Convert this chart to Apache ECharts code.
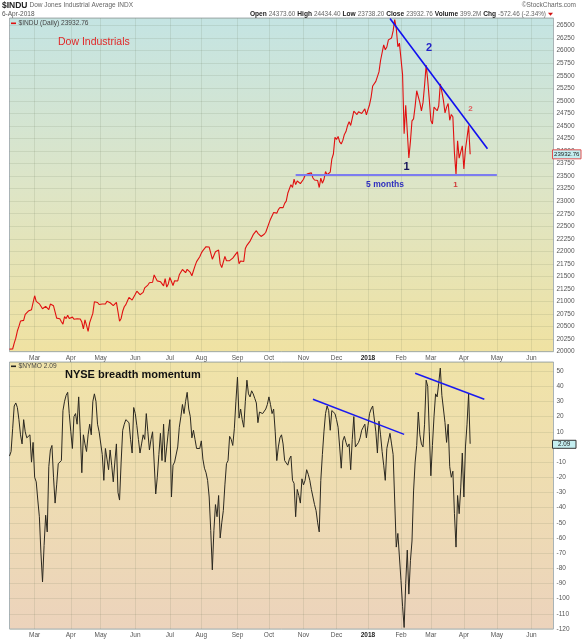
<!DOCTYPE html>
<html><head><meta charset="utf-8">
<script src="https://cdn.jsdelivr.net/npm/echarts@6/dist/echarts.min.js"></script>
<style>html,body{margin:0;padding:0;background:#fff}#c{width:582px;height:640px}</style>
</head><body><div id="c"></div>
<script>
// ---------- data ----------
const startDate = '2017-02-06';
const endDate = '2018-06-21';
const holidays = ['2017-02-20','2017-04-14','2017-05-29','2017-07-04','2017-09-04','2017-11-23','2017-12-25',
  '2018-01-01','2018-01-15','2018-02-19','2018-03-30','2018-05-28'];
const monthNames = ['Jan','Feb','Mar','Apr','May','Jun','Jul','Aug','Sep','Oct','Nov','Dec'];

const dowClose = [
20052,20090,20054,20172,20269,20412,20504,20611,20619,20624,20743,20775,20810,20821,20837,20812,
21115,21002,21005,20954,20924,20855,20858,20903,20881,20837,20950,20934,20914,20905,20669,20661,20656,20597,20550,20701,20659,20728,20663,
20650,20689,20648,20662,20656,20658,20651,20591,20453,20636,20523,20404,20578,20548,20763,20996,20975,20981,20941,
20913,20950,20957,20951,21007,21013,20975,20943,20919,20897,20982,20980,20607,20663,20805,20895,20938,21012,21083,21080,21029,21009,
21144,21206,21184,21136,21174,21182,21272,21236,21328,21374,21360,21384,21529,21468,21411,21397,21395,21409,21311,21455,21288,21350,
21479,21479,21320,21414,21409,21410,21533,21554,21638,21630,21575,21641,21611,21580,21513,21613,21711,21796,21830,21891,
21964,22016,22026,22092,22118,22085,22048,21844,21858,21993,21998,22025,21750,21675,21703,21899,21812,21783,21814,21808,21865,21892,21948,
21988,21754,21807,21785,21798,22057,22119,22158,22204,22268,22332,22370,22412,22359,22350,22297,22284,22341,22381,22405,
22557,22641,22662,22775,22774,22761,22831,22873,22841,22872,22957,23000,23157,23163,23329,23274,23441,23329,23401,23434,23349,23377,
23436,23516,23539,23549,23557,23563,23462,23422,23440,23410,23272,23458,23358,23430,23591,23526,23558,23580,23836,23940,24272,
24231,24290,24180,24140,24211,24329,24387,24504,24585,24509,24652,24792,24754,24726,24782,24754,24746,24775,24838,24719,
24824,24922,25075,25296,25283,25386,25369,25575,25803,25793,26116,26017,26072,26214,26211,26252,26393,26617,26440,26077,26149,
26187,25521,24346,24913,24893,23860,24191,24601,24641,24893,25200,25219,24965,24798,24963,25310,25710,25411,25029,
24609,24538,24875,24884,24802,24896,25336,25179,25008,24759,24874,24947,24611,24727,24683,23958,23533,24202,23858,23849,24103,
23644,24034,24264,24505,23933
];

const nymo = [
-6,-3,12,27,29,26,18,8,2,18,10,6,5,8,-10,3,-20,-23,-35,-46,
-70,-89,-65,-45,-56,-13,-2,1,-20,-37,-25,-11,-10,-9,24,30,34,36,22,10,
-1,20,22,15,33,10,-17,8,2,-3,8,15,8,30,35,30,15,10,11,-5,
-22,-1,-8,-15,-2,-12,-23,-10,2,-30,-35,-10,11,15,18,17,16,5,-4,26,
22,14,5,-4,2,8,5,22,10,-2,5,10,-10,-31,-20,-5,9,-9,15,-10,
0,10,18,-33,-12,-10,-9,0,13,20,28,22,30,36,25,20,6,11,5,-1,
0,-1,4,-8,-14,-17,-22,-33,-55,-81,-55,-38,-46,-32,-60,-50,-42,-25,-11,-9,
7,5,1,12,30,46,19,25,18,13,30,44,35,33,37,35,32,29,16,23,
23,22,23,25,28,33,28,22,25,10,-9,0,6,8,2,-9,-10,-12,-8,-6,
-22,-24,-46,-28,-32,-37,-21,-25,-22,-15,-18,-22,-28,-33,-38,-42,-50,-56,-22,-5,
10,22,27,24,11,24,23,22,18,13,0,-14,4,7,3,0,2,-15,5,20,
0,-1,3,6,11,13,15,6,14,22,25,27,26,10,-4,17,8,-3,-12,-22,
-1,4,9,2,-5,-6,-66,-57,-58,-88,-105,-119,-90,-68,-97,-75,-62,-29,-10,1,
23,8,2,0,15,44,40,10,-19,1,20,35,33,42,52,34,25,16,3,15,
-13,-20,-16,-44,-66,-32,-44,-27,-4,-33,0,15,35,2.09
];

const xTickLabels = {1:'2018'}; // January shows the year
const dowTrendLine = [[242, 26642], [304, 24045]];
const dowSupportLine = [[182, 23533], [310, 23533]];
const nymoTrendLine1 = [[193, 31.4], [251, 8.3]];
const nymoTrendLine2 = [[258, 48.6], [302, 31.4]];
const header = {
  symbol: '$INDU', name: 'Dow Jones Industrial Average INDX', date: '6-Apr-2018',
  open: '24373.60', high: '24434.40', low: '23738.20', close: '23932.76',
  volume: '399.2M', chg: '-572.46 (-2.34%)'
};

// ---------- build categories ----------
const cats = [];
const end = new Date(endDate + 'T00:00:00Z');
for (let d = new Date(startDate + 'T00:00:00Z'); d <= end; d.setUTCDate(d.getUTCDate() + 1)) {
  const wd = d.getUTCDay();
  if (wd === 0 || wd === 6) continue;
  const s = d.toISOString().slice(0, 10);
  if (holidays.includes(s)) continue;
  cats.push(s);
}
const isMonthStart = cats.map((c, i) => i > 0 && c.slice(5, 7) !== cats[i - 1].slice(5, 7));

const FONT = 'Liberation Sans, Arial, sans-serif';
const AX_FS = 6.5;
const gridLineColor = 'rgba(95,105,80,0.13)';

function xAxisCfg(gridIndex) {
  return {
    type: 'category', gridIndex, data: cats, boundaryGap: false,
    axisLine: { show: false }, axisTick: { show: false },
    axisLabel: {
      interval: (i) => isMonthStart[i], margin: 3, fontSize: AX_FS, color: '#555', fontFamily: FONT,
      formatter: (v) => { const m = +v.slice(5, 7); return xTickLabels[m] ? '{y|' + v.slice(0, 4) + '}' : monthNames[m - 1]; },
      rich: { y: { fontWeight: 'bold', color: '#222', fontSize: AX_FS, fontFamily: FONT } }
    },
    splitLine: { show: true, interval: (i) => isMonthStart[i], lineStyle: { color: gridLineColor, width: 1 } }
  };
}

const topBg = { type: 'linear', x: 0, y: 0, x2: 0, y2: 1, colorStops: [
  { offset: 0, color: '#c4e4e3' }, { offset: 0.5, color: '#dde5c7' }, { offset: 1, color: '#f0e2a2' }] };
const botBg = { type: 'linear', x: 0, y: 0, x2: 0, y2: 1, colorStops: [
  { offset: 0, color: '#f0e3a8' }, { offset: 0.5, color: '#eedcb2' }, { offset: 1, color: '#ecd3bc' }] };

const chart = echarts.init(document.getElementById('c'), null, { renderer: 'canvas' });

chart.setOption({
  animation: false,
  backgroundColor: '#fff',
  grid: [
    { left: 9.5, right: 28.5, top: 18, height: 333.7, show: true, backgroundColor: topBg, borderColor: '#a9b3b6', borderWidth: 1 },
    { left: 9.5, right: 28.5, top: 362, height: 267, show: true, backgroundColor: botBg, borderColor: '#a9b3b6', borderWidth: 1 }
  ],
  xAxis: [xAxisCfg(0), xAxisCfg(1)],
  yAxis: [
    { type: 'value', gridIndex: 0, position: 'right', min: 20000, max: 26650, interval: 250,
      axisLine: { show: false }, axisTick: { show: false },
      axisLabel: { showMaxLabel: false, margin: 3, fontSize: AX_FS, color: '#555', fontFamily: FONT, formatter: (v) => String(v) },
      splitLine: { lineStyle: { color: gridLineColor, width: 1 } } },
    { type: 'value', gridIndex: 1, position: 'right', min: -120, max: 56, interval: 10,
      axisLine: { show: false }, axisTick: { show: false },
      axisLabel: { showMaxLabel: false, margin: 3, fontSize: AX_FS, color: '#555', fontFamily: FONT, formatter: (v) => String(v) },
      splitLine: { lineStyle: { color: gridLineColor, width: 1 } } }
  ],
  series: [
    { type: 'line', xAxisIndex: 0, yAxisIndex: 0, data: dowClose, symbol: 'none', z: 3,
      lineStyle: { color: '#e01010', width: 1.1 },
      markLine: { silent: true, symbol: 'none', label: { show: false }, animation: false,
        data: [
          [{ coord: dowTrendLine[0], lineStyle: { color: '#1010f0', width: 1.6, type: 'solid' } }, { coord: dowTrendLine[1] }],
          [{ coord: dowSupportLine[0], lineStyle: { color: '#7c7cf0', width: 2, type: 'solid' } }, { coord: dowSupportLine[1] }]
        ] } },
    { type: 'line', xAxisIndex: 1, yAxisIndex: 1, data: nymo, symbol: 'none', z: 3,
      lineStyle: { color: '#2b2820', width: 1 },
      markLine: { silent: true, symbol: 'none', label: { show: false }, animation: false,
        lineStyle: { color: '#1a1af0', width: 1.5, type: 'solid' },
        data: [
          [{ coord: nymoTrendLine1[0] }, { coord: nymoTrendLine1[1] }],
          [{ coord: nymoTrendLine2[0] }, { coord: nymoTrendLine2[1] }]
        ] } }
  ]
});

// ---------- texts & value boxes ----------
const lastDow = dowClose[dowClose.length - 1];
const lastNymo = nymo[nymo.length - 1];
const yDow = chart.convertToPixel({ yAxisIndex: 0 }, lastDow);
const yNymo = chart.convertToPixel({ yAxisIndex: 1 }, lastNymo);

function txt(x, y, text, extra) {
  return { type: 'text', x, y, z: 100, silent: true,
    style: Object.assign({ text, fontFamily: FONT, fontSize: 7, fill: '#333', align: 'left', verticalAlign: 'middle' }, extra || {}) };
}
const g = [];
g.push(txt(2, 5.5, '{b|' + header.symbol + '} {g|' + header.name + '}', {
  rich: { b: { fontWeight: 'bold', fontSize: 8.5, fill: '#222', fontFamily: FONT }, g: { fontSize: 6.5, fill: '#666', fontFamily: FONT } } }));
g.push(txt(576, 5.5, '\u00A9StockCharts.com', { align: 'right', fontSize: 6.5, fill: '#666' }));
g.push(txt(2, 14.5, header.date, { fontSize: 6.5, fill: '#555' }));
g.push(txt(546, 14.5,
  '{b|Open} {v|' + header.open + '} {b|High} {v|' + header.high + '} {b|Low} {v|' + header.low + '} {b|Close} {v|' + header.close +
  '} {b|Volume} {v|' + header.volume + '} {b|Chg} {v|' + header.chg + '}',
  { align: 'right', rich: { b: { fontWeight: 'bold', fontSize: 6.6, fill: '#222', fontFamily: FONT }, v: { fontSize: 6.4, fill: '#666', fontFamily: FONT } } }));
g.push({ type: 'polygon', z: 100, silent: true, shape: { points: [[548, 12.8], [553, 12.8], [550.5, 15.8]] }, style: { fill: '#d01010' } });

// legends
g.push({ type: 'rect', z: 100, silent: true, shape: { x: 11, y: 22.5, width: 5, height: 1.6 }, style: { fill: '#e01010' } });
g.push(txt(18.5, 23.5, '$INDU (Daily) ' + header.close, { fontSize: 6.6, fill: '#444' }));
g.push({ type: 'rect', z: 100, silent: true, shape: { x: 11, y: 365.5, width: 5, height: 1.6 }, style: { fill: '#222' } });
g.push(txt(18.5, 366.5, '$NYMO ' + lastNymo, { fontSize: 6.6, fill: '#444' }));

// annotations
g.push(txt(58, 42, 'Dow Industrials', { fontSize: 10.5, fill: '#e02828' }));
g.push(txt(429, 47.5, '2', { fontSize: 11, fill: '#2323c8', align: 'center', fontWeight: 'bold' }));
g.push(txt(406.5, 166.5, '1', { fontSize: 11, fill: '#15155a', align: 'center', fontWeight: 'bold' }));
g.push(txt(470.5, 109, '2', { fontSize: 8, fill: '#e05a5a', align: 'center', fontWeight: 'bold' }));
g.push(txt(455.5, 184.5, '1', { fontSize: 8, fill: '#d03a3a', align: 'center', fontWeight: 'bold' }));
g.push(txt(385, 184.5, '5 months', { fontSize: 8.5, fill: '#2e2ebe', align: 'center', fontWeight: 'bold' }));
g.push(txt(65, 374.5, 'NYSE breadth momentum', { fontSize: 11, fill: '#111', fontWeight: 'bold' }));

// last value boxes
g.push({ type: 'rect', z: 100, silent: true, shape: { x: 552.5, y: yDow - 4.5, width: 28.5, height: 9 },
  style: { fill: '#c4eef0', stroke: '#e05050', lineWidth: 1 } });
g.push(txt(566.7, yDow + 0.3, header.close, { fontSize: 6.1, fill: '#222', align: 'center' }));
g.push({ type: 'rect', z: 100, silent: true, shape: { x: 552.5, y: yNymo - 3.5, width: 23.5, height: 8 },
  style: { fill: '#c4eef0', stroke: '#333', lineWidth: 1 } });
g.push(txt(564.2, yNymo + 0.5, String(lastNymo), { fontSize: 6.3, fill: '#222', align: 'center' }));

chart.setOption({ graphic: g });
</script>
</body></html>
